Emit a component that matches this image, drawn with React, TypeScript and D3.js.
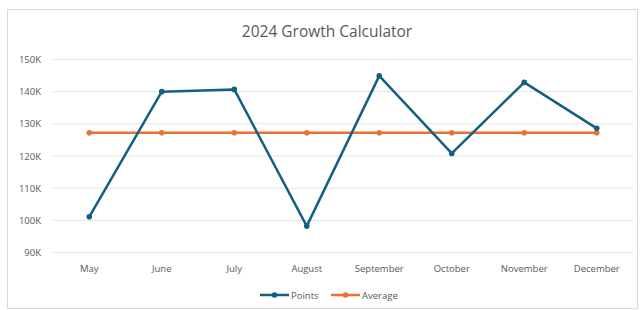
import * as d3 from "d3";
import { useEffect, useRef } from "react";

const months = ["May", "June", "July", "August", "September", "October", "November", "December"];
const points = [101.1, 140.0, 140.7, 98.2, 144.9, 120.8, 142.9, 128.6];
const average = [127.2, 127.2, 127.2, 127.2, 127.2, 127.2, 127.2, 127.2];
const yTicks = [90, 100, 110, 120, 130, 140, 150];

const W = 644;
const H = 310;

export default function App() {
  const svgRef = useRef<SVGSVGElement>(null);

  useEffect(() => {
    if (!svgRef.current) return;
    const svg = d3.select(svgRef.current);
    svg.selectAll("*").remove();

    const font = "'Open Sans', 'Noto Sans', sans-serif";
    const grey = "#595959";

    // chart frame
    svg
      .append("rect")
      .attr("x", 7.5)
      .attr("y", 9.5)
      .attr("width", 630)
      .attr("height", 299)
      .attr("fill", "#fff")
      .attr("stroke", "#d9d9d9");

    svg
      .append("text")
      .attr("x", 327)
      .attr("y", 37)
      .attr("text-anchor", "middle")
      .attr("font-family", font)
      .attr("font-size", 15.5)
      .attr("fill", grey)
      .text("2024 Growth Calculator");

    const x = d3.scaleBand().domain(months).range([53, 633]);
    const y = d3.scaleLinear().domain([90, 150]).range([252.5, 59.5]);
    const cx = (m: string) => (x(m) ?? 0) + x.bandwidth() / 2;

    // gridlines
    svg
      .append("g")
      .selectAll("line")
      .data(yTicks)
      .join("line")
      .attr("x1", 53)
      .attr("x2", 633)
      .attr("y1", (d) => y(d))
      .attr("y2", (d) => y(d))
      .attr("stroke", "#e3e3e3")
      .attr("stroke-width", 1);

    svg
      .append("g")
      .selectAll("text")
      .data(yTicks)
      .join("text")
      .attr("x", 41)
      .attr("y", (d) => y(d) + 3.5)
      .attr("text-anchor", "end")
      .attr("font-family", font)
      .attr("font-size", 9.5)
      .attr("fill", grey)
      .text((d) => `${d}K`);

    svg
      .append("g")
      .selectAll("text")
      .data(months)
      .join("text")
      .attr("x", (d) => cx(d))
      .attr("y", 271.5)
      .attr("text-anchor", "middle")
      .attr("font-family", font)
      .attr("font-size", 9.5)
      .attr("fill", grey)
      .text((d) => d);

    const series = [
      { name: "Points", values: points, color: "#156082" },
      { name: "Average", values: average, color: "#E97132" },
    ];

    const line = d3
      .line<number>()
      .x((_, i) => cx(months[i]))
      .y((d) => y(d));

    // draw average first so Points sits on top
    [series[1], series[0]].forEach((s) => {
      const g = svg.append("g");
      g.append("path")
        .attr("d", line(s.values))
        .attr("fill", "none")
        .attr("stroke", s.color)
        .attr("stroke-width", 2.5)
        .attr("stroke-linejoin", "round");
      g.selectAll("circle")
        .data(s.values)
        .join("circle")
        .attr("cx", (_, i) => cx(months[i]))
        .attr("cy", (d) => y(d))
        .attr("r", 2.8)
        .attr("fill", s.color);
    });

    // legend
    const legend = svg.append("g").attr("font-family", font).attr("font-size", 9.5).attr("fill", grey);
    const legendX = [260, 331];
    series.forEach((s, i) => {
      const lx = legendX[i];
      legend
        .append("line")
        .attr("x1", lx)
        .attr("x2", lx + 29)
        .attr("y1", 295)
        .attr("y2", 295)
        .attr("stroke", s.color)
        .attr("stroke-width", 2.5);
      legend
        .append("circle")
        .attr("cx", lx + 14.5)
        .attr("cy", 295)
        .attr("r", 2.8)
        .attr("fill", s.color);
      legend
        .append("text")
        .attr("x", lx + 31)
        .attr("y", 298.5)
        .text(s.name);
    });
  }, []);

  return (
    <svg
      ref={svgRef}
      width={W}
      height={H}
      style={{ position: "absolute", left: 0, top: 0, display: "block" }}
    />
  );
}
